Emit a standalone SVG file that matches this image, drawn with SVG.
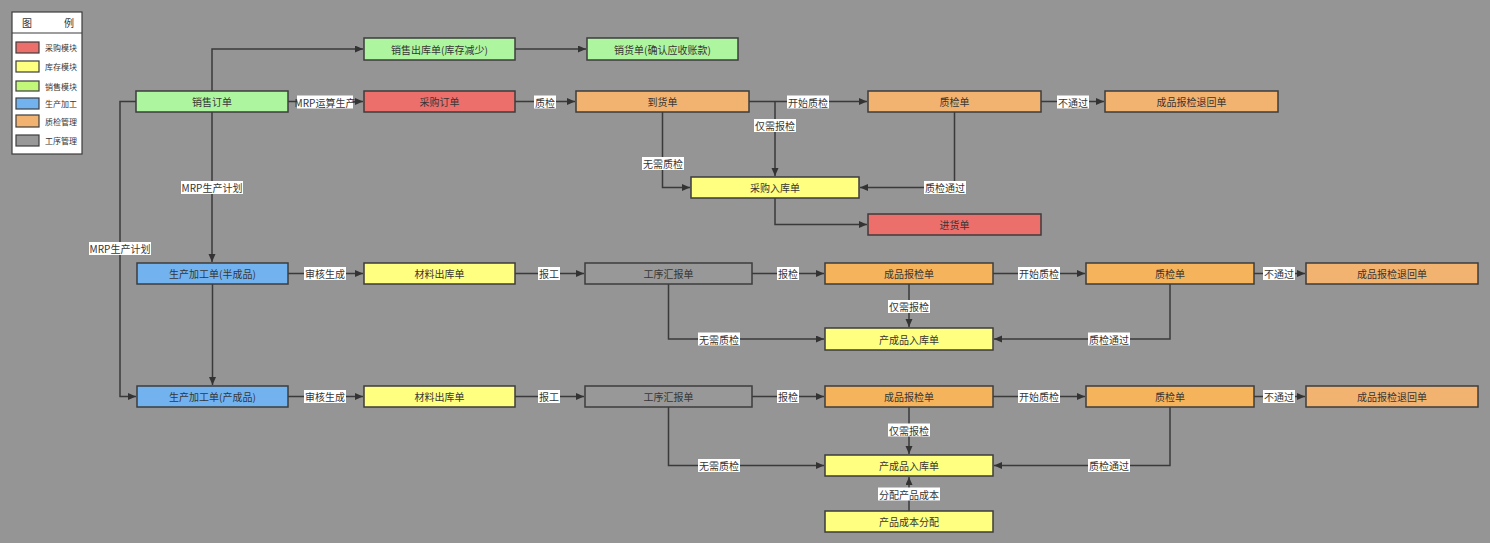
<svg xmlns="http://www.w3.org/2000/svg" width="1490" height="543" viewBox="0 0 1490 543">
<defs>
<marker id="arr" markerUnits="userSpaceOnUse" markerWidth="9" markerHeight="8" refX="8" refY="3.5" orient="auto">
<path d="M0,0 L8,3.5 L0,7 z" fill="#333"/>
</marker>
<style>
text{font-family:"Noto Sans CJK SC","Noto Sans",sans-serif;fill:#363636;}
.n rect{stroke:#3d3d3d;stroke-width:1.5;}
.n text{font-size:10px;text-anchor:middle;dominant-baseline:central;}
.green{fill:#aef5a0;}
.red{fill:#ec6f6b;}
.orange{fill:#f3b370;}
.orange2{fill:#f5b35c;}
.yellow{fill:#ffff80;}
.blue{fill:#72b3ef;}
.gray{fill:#989898;}
.c path{fill:none;stroke:#3a3a3a;stroke-width:1.5;marker-end:url(#arr);}
.lb rect{fill:#fff;}
.lb text{font-size:10px;text-anchor:middle;dominant-baseline:central;}
.lg text{font-size:8px;dominant-baseline:central;}
.lg rect.sw{stroke:#3d3d3d;stroke-width:1.2;}
</style>
</defs>
<rect width="1490" height="543" fill="#959595"/>

<g id="legend" class="lg">
<rect x="12" y="12" width="70" height="142" fill="#fff" stroke="#3d3d3d" stroke-width="1.2"/>
<line x1="12" y1="33" x2="82" y2="33" stroke="#3d3d3d" stroke-width="1.2"/>
<text x="22" y="22.5" style="font-size:10px">图</text>
<text x="64" y="22.5" style="font-size:10px">例</text>
<rect class="sw red" x="16" y="42" width="23" height="11"/>
<text x="45" y="47.5">采购模块</text>
<rect class="sw yellow" x="16" y="61" width="23" height="11"/>
<text x="45" y="66.5">库存模块</text>
<rect class="sw" x="16" y="81" width="23" height="10" fill="#c2f77a"/>
<text x="45" y="86">销售模块</text>
<rect class="sw blue" x="16" y="98" width="23" height="11"/>
<text x="45" y="103.5">生产加工</text>
<rect class="sw orange" x="16" y="115" width="23" height="12"/>
<text x="45" y="121">质检管理</text>
<rect class="sw gray" x="16" y="135" width="23" height="11"/>
<text x="45" y="140.5">工序管理</text>
</g>

<g id="connectors" class="c">
<path d="M212,91 V49 H363"/>
<path d="M515,49 H586"/>
<path d="M288,101.5 H363"/>
<path d="M515,101.5 H575"/>
<path d="M749,101.5 H867"/>
<path d="M775,101.5 V176"/>
<path d="M662.5,112 V187.5 H690"/>
<path d="M954.5,112 V187.5 H860"/>
<path d="M1041,101.5 H1104"/>
<path d="M775,198 V224.5 H867"/>
<path d="M136,101.5 H120 V396.5 H136"/>
<path d="M212,112 V262"/>

<path d="M288,273.5 H363"/>
<path d="M515,273.5 H584"/>
<path d="M752,273.5 H824"/>
<path d="M993,273.5 H1085"/>
<path d="M1254,273.5 H1305"/>
<path d="M668.5,284 V339 H824"/>
<path d="M909,284 V327"/>
<path d="M1170,284 V339 H994"/>
<path d="M212.5,284 V385"/>

<path d="M288,396.5 H363"/>
<path d="M515,396.5 H584"/>
<path d="M752,396.5 H824"/>
<path d="M993,396.5 H1085"/>
<path d="M1254,396.5 H1305"/>
<path d="M668.5,407 V465.5 H824"/>
<path d="M909,407 V454"/>
<path d="M1170,407 V465.5 H994"/>
<path d="M909,511 V477"/>

<g class="lb">
<rect x="297" y="95.5" width="56" height="13"/><text x="325" y="102">MRP运算生产</text>
<rect x="181" y="181" width="62" height="13"/><text x="212" y="187.5">MRP生产计划</text>
<rect x="89" y="242" width="62" height="13"/><text x="120" y="248.5">MRP生产计划</text>
<rect x="534" y="95.5" width="22" height="13"/><text x="545" y="102">质检</text>
<rect x="787" y="95.5" width="42" height="13"/><text x="808" y="102">开始质检</text>
<rect x="754" y="119" width="42" height="13"/><text x="775" y="125.5">仅需报检</text>
<rect x="642" y="157" width="42" height="13"/><text x="663" y="163.5">无需质检</text>
<rect x="924" y="181" width="42" height="13"/><text x="945" y="187.5">质检通过</text>
<rect x="1057" y="95.5" width="32" height="13"/><text x="1073" y="102">不通过</text>

<rect x="304" y="267" width="42" height="13"/><text x="325" y="273.5">审核生成</text>
<rect x="538" y="267" width="22" height="13"/><text x="549" y="273.5">报工</text>
<rect x="777" y="267" width="22" height="13"/><text x="788" y="273.5">报检</text>
<rect x="1018" y="267" width="42" height="13"/><text x="1039" y="273.5">开始质检</text>
<rect x="1263" y="267" width="32" height="13"/><text x="1279" y="273.5">不通过</text>
<rect x="888" y="300" width="42" height="13"/><text x="909" y="306.5">仅需报检</text>
<rect x="698" y="332.5" width="42" height="13"/><text x="719" y="339">无需质检</text>
<rect x="1088" y="332.5" width="42" height="13"/><text x="1109" y="339">质检通过</text>

<rect x="304" y="390" width="42" height="13"/><text x="325" y="396.5">审核生成</text>
<rect x="538" y="390" width="22" height="13"/><text x="549" y="396.5">报工</text>
<rect x="777" y="390" width="22" height="13"/><text x="788" y="396.5">报检</text>
<rect x="1018" y="390" width="42" height="13"/><text x="1039" y="396.5">开始质检</text>
<rect x="1263" y="390" width="32" height="13"/><text x="1279" y="396.5">不通过</text>
<rect x="888" y="423.5" width="42" height="13"/><text x="909" y="430">仅需报检</text>
<rect x="698" y="459" width="42" height="13"/><text x="719" y="465.5">无需质检</text>
<rect x="1088" y="459" width="42" height="13"/><text x="1109" y="465.5">质检通过</text>
<rect x="878" y="487.5" width="62" height="13"/><text x="909" y="494">分配产品成本</text>
</g>
</g>

<g id="n_sales_order" class="n"><rect class="green" x="136" y="91" width="152" height="21"/><text x="212" y="101.5">销售订单</text></g>
<g id="n_sales_out" class="n"><rect class="green" x="364" y="38" width="151" height="22"/><text x="439.5" y="49">销售出库单(库存减少)</text></g>
<g id="n_sales_invoice" class="n"><rect class="green" x="587" y="38" width="151" height="22"/><text x="662.5" y="49">销货单(确认应收账款)</text></g>
<g id="n_purchase_order" class="n"><rect class="red" x="364" y="91" width="151" height="21"/><text x="439.5" y="101.5">采购订单</text></g>
<g id="n_arrival" class="n"><rect class="orange" x="576" y="91" width="173" height="21"/><text x="662.5" y="101.5">到货单</text></g>
<g id="n_qc_top" class="n"><rect class="orange" x="868" y="91" width="173" height="21"/><text x="954.5" y="101.5">质检单</text></g>
<g id="n_return_top" class="n"><rect class="orange" x="1105" y="91" width="173" height="21"/><text x="1191.5" y="101.5">成品报检退回单</text></g>
<g id="n_purchase_in" class="n"><rect class="yellow" x="691" y="177" width="168" height="21"/><text x="775" y="187.5">采购入库单</text></g>
<g id="n_stock_in" class="n"><rect class="red" x="868" y="214" width="173" height="21"/><text x="954.5" y="224.5">进货单</text></g>

<g id="n_prod_semi" class="n"><rect class="blue" x="137" y="263" width="151" height="21"/><text x="212.5" y="273.5">生产加工单(半成品)</text></g>
<g id="n_mat_out1" class="n"><rect class="yellow" x="364" y="263" width="151" height="21"/><text x="439.5" y="273.5">材料出库单</text></g>
<g id="n_report1" class="n"><rect class="gray" x="585" y="263" width="167" height="21"/><text x="668.5" y="273.5">工序汇报单</text></g>
<g id="n_insp1" class="n"><rect class="orange2" x="825" y="263" width="168" height="21"/><text x="909" y="273.5">成品报检单</text></g>
<g id="n_qc1" class="n"><rect class="orange2" x="1086" y="263" width="168" height="21"/><text x="1170" y="273.5">质检单</text></g>
<g id="n_return1" class="n"><rect class="orange" x="1306" y="263" width="172" height="21"/><text x="1392" y="273.5">成品报检退回单</text></g>
<g id="n_fin_in1" class="n"><rect class="yellow" x="825" y="328" width="168" height="22"/><text x="909" y="339">产成品入库单</text></g>

<g id="n_prod_fin" class="n"><rect class="blue" x="137" y="386" width="151" height="21"/><text x="212.5" y="396.5">生产加工单(产成品)</text></g>
<g id="n_mat_out2" class="n"><rect class="yellow" x="364" y="386" width="151" height="21"/><text x="439.5" y="396.5">材料出库单</text></g>
<g id="n_report2" class="n"><rect class="gray" x="585" y="386" width="167" height="21"/><text x="668.5" y="396.5">工序汇报单</text></g>
<g id="n_insp2" class="n"><rect class="orange2" x="825" y="386" width="168" height="21"/><text x="909" y="396.5">成品报检单</text></g>
<g id="n_qc2" class="n"><rect class="orange2" x="1086" y="386" width="168" height="21"/><text x="1170" y="396.5">质检单</text></g>
<g id="n_return2" class="n"><rect class="orange" x="1306" y="386" width="172" height="21"/><text x="1392" y="396.5">成品报检退回单</text></g>
<g id="n_fin_in2" class="n"><rect class="yellow" x="825" y="455" width="168" height="21"/><text x="909" y="465.5">产成品入库单</text></g>
<g id="n_cost" class="n"><rect class="yellow" x="825" y="511" width="168" height="21"/><text x="909" y="521.5">产品成本分配</text></g>
</svg>
